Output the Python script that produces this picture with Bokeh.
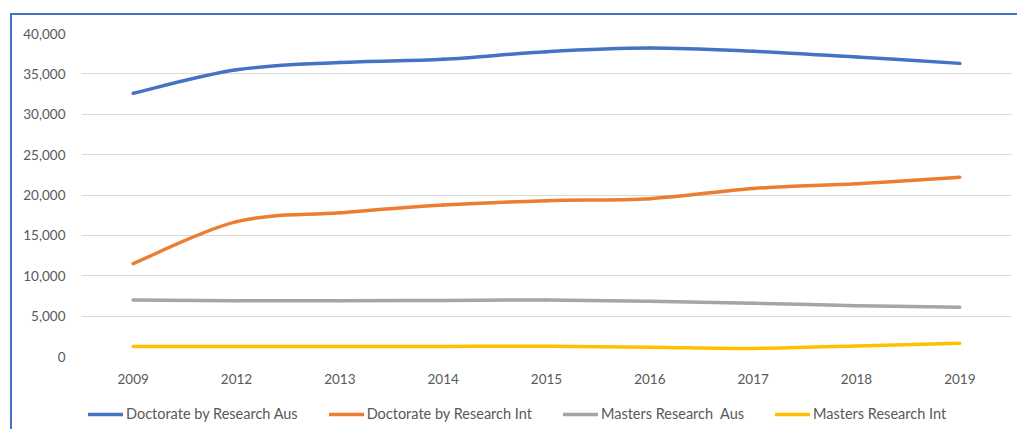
from bokeh.plotting import figure
from bokeh.layouts import column
from bokeh.models import (Range1d, FixedTicker, NumeralTickFormatter, Legend,
                          LegendItem, ColumnDataSource)
from bokeh.embed import file_html
from bokeh.resources import INLINE

# ---- data ----
years = ["2009", "2012", "2013", "2014", "2015", "2016", "2017", "2018", "2019"]
doc_aus = [32600, 35500, 36400, 36800, 37750, 38200, 37800, 37100, 36300]
doc_int = [11500, 16700, 17800, 18750, 19300, 19550, 20800, 21400, 22200]
mas_aus = [7000, 6900, 6900, 6950, 7000, 6850, 6600, 6300, 6100]
mas_int = [1250, 1250, 1250, 1250, 1260, 1160, 1000, 1310, 1650]

series_names = ["Doctorate by Research Aus", "Doctorate by Research Int",
                "Masters Research  Aus", "Masters Research Int"]
series_vals = [doc_aus, doc_int, mas_aus, mas_int]
colors = ["#4472C4", "#ED7D31", "#A5A5A5", "#FFC000"]
y_ticks = [0, 5000, 10000, 15000, 20000, 25000, 30000, 35000, 40000]

FONT = "Lato"
TXT = "#595959"

p = figure(width=1005, height=375, output_backend="svg", toolbar_location=None,
           x_range=Range1d(0.5, len(years) + 0.5), y_range=Range1d(0, 40000),
           min_border_left=69, min_border_right=6, min_border_top=18,
           min_border_bottom=34)
p.outline_line_color = None
p.background_fill_color = "white"
p.border_fill_color = "white"

xpos = list(range(1, len(years) + 1))


def smooth_segments(xs, ys):
    n = len(xs)
    d = dict(x0=[], y0=[], x1=[], y1=[], cx0=[], cy0=[], cx1=[], cy1=[])
    for i in range(n - 1):
        xm, ym = (xs[i - 1], ys[i - 1]) if i > 0 else (xs[i], ys[i])
        xp, yp = (xs[i + 2], ys[i + 2]) if i + 2 < n else (xs[i + 1], ys[i + 1])
        d["x0"].append(xs[i]); d["y0"].append(ys[i])
        d["x1"].append(xs[i + 1]); d["y1"].append(ys[i + 1])
        d["cx0"].append(xs[i] + (xs[i + 1] - xm) / 6)
        d["cy0"].append(ys[i] + (ys[i + 1] - ym) / 6)
        d["cx1"].append(xs[i + 1] - (xp - xs[i]) / 6)
        d["cy1"].append(ys[i + 1] - (yp - ys[i]) / 6)
    return ColumnDataSource(d)


for name, vals, col in zip(series_names, series_vals, colors):
    src = smooth_segments(xpos, vals)
    p.bezier(x0="x0", y0="y0", x1="x1", y1="y1", cx0="cx0", cy0="cy0",
             cx1="cx1", cy1="cy1", source=src, line_color=col,
             line_width=3.5, line_cap="round")

# y axis
p.yaxis.ticker = FixedTicker(ticks=y_ticks)
p.yaxis.formatter = NumeralTickFormatter(format="0,0")
p.yaxis.axis_line_color = None
p.yaxis.major_tick_line_color = None
p.yaxis.minor_tick_line_color = None
p.yaxis.major_tick_out = 0
p.yaxis.major_tick_in = 0
p.yaxis.major_label_standoff = 16
p.yaxis.major_label_text_font = FONT
p.yaxis.major_label_text_font_size = "13.5px"
p.yaxis.major_label_text_color = TXT

# x axis
p.xaxis.ticker = FixedTicker(ticks=xpos)
p.xaxis.major_label_overrides = {x: y for x, y in zip(xpos, years)}
p.xaxis.axis_line_color = None
p.xaxis.major_tick_line_color = None
p.xaxis.minor_tick_line_color = None
p.xaxis.major_tick_out = 0
p.xaxis.major_tick_in = 0
p.xaxis.major_label_standoff = 17
p.xaxis.major_label_text_font = FONT
p.xaxis.major_label_text_font_size = "13.5px"
p.xaxis.major_label_text_color = TXT

p.xgrid.grid_line_color = None
p.ygrid.grid_line_color = "#D9D9D9"
p.ygrid.grid_line_width = 1

# ---- legend strip below the chart (series kept out of its view range) ----
lg = figure(width=1005, height=39, output_backend="svg", toolbar_location=None,
            x_range=Range1d(0.5, len(years) + 0.5), y_range=Range1d(-2, -1),
            min_border=0, min_border_left=0, min_border_right=0,
            min_border_top=0, min_border_bottom=0)
lg.axis.visible = False
lg.grid.visible = False
lg.outline_line_color = None
lg.border_fill_color = "white"
lg.background_fill_color = "white"

items = []
for name, vals, col in zip(series_names, series_vals, colors):
    r = lg.line(x=xpos, y=vals, line_color=col, line_width=3.5,
                line_cap="round")
    items.append(LegendItem(label=name, renderers=[r]))

legend = Legend(items=items, orientation="horizontal", location=(7, 7),
                glyph_width=35, glyph_height=16, label_standoff=3, spacing=31,
                padding=2, margin=0, border_line_color=None,
                background_fill_alpha=0,
                label_text_font=FONT, label_text_font_size="14.5px",
                label_text_color=TXT)
lg.add_layout(legend)

layout = column(p, lg, spacing=0)
layout.styles = {"margin-left": "10px", "margin-top": "13px",
                 "border-left": "2px solid #4472C4",
                 "border-top": "2px solid #4472C4"}

open("out.html", "w").write(file_html(layout, INLINE))
